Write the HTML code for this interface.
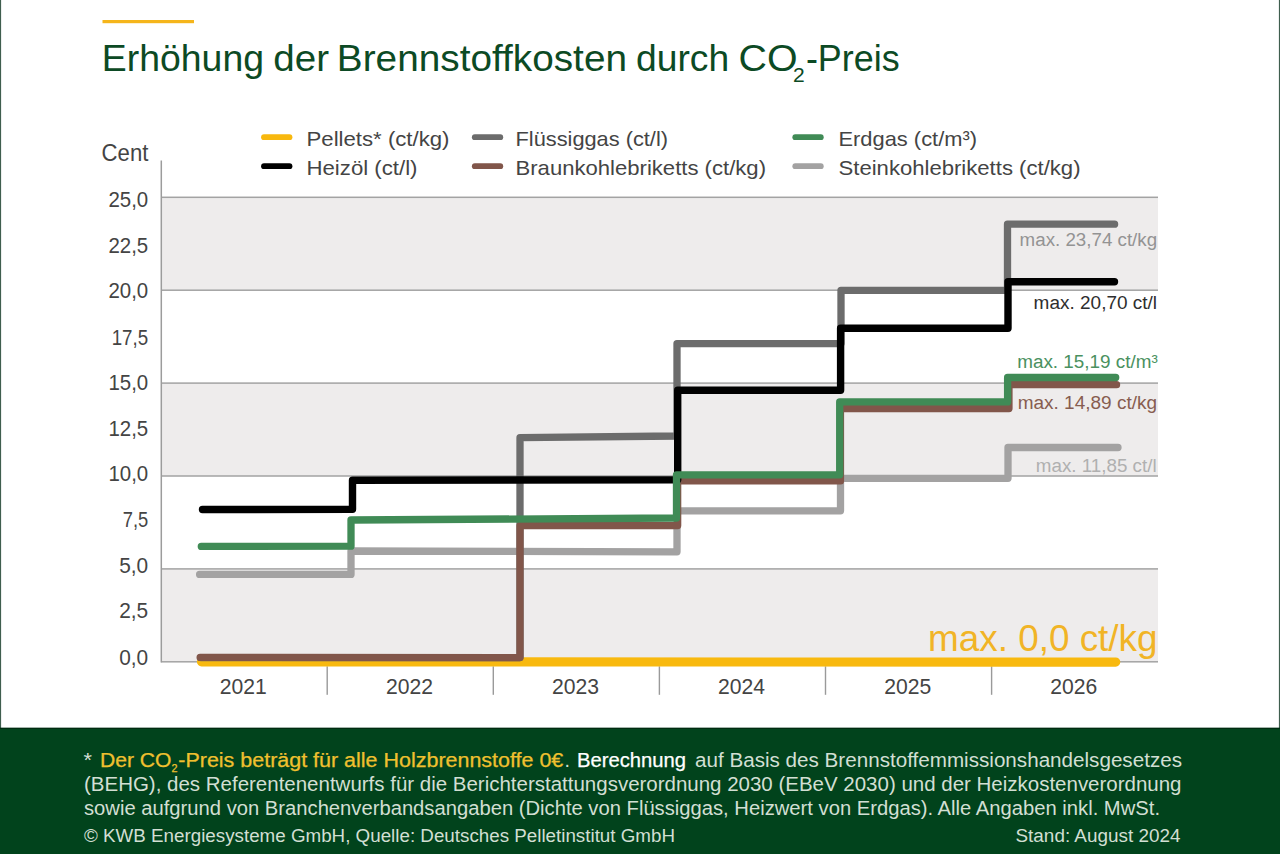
<!DOCTYPE html>
<html lang="de"><head><meta charset="utf-8"><title>Erhöhung der Brennstoffkosten durch CO2-Preis</title>
<style>
html,body{margin:0;padding:0;background:#fff;}
body{width:1280px;height:854px;overflow:hidden;position:relative;font-family:"Liberation Sans",sans-serif;}
svg{position:absolute;left:0;top:0;display:block}
text{font-family:"Liberation Sans",sans-serif;}
</style></head><body>
<svg width="1280" height="854" viewBox="0 0 1280 854">

<rect x="0" y="0" width="1280" height="854" fill="#ffffff"/>
<rect x="0" y="0" width="1.1" height="730" fill="#3f5e4e"/>
<rect x="1278.9" y="0" width="1.1" height="730" fill="#3f5e4e"/>
<rect x="0" y="727.8" width="1280" height="126.2" fill="#01431c"/><rect x="0" y="727.8" width="1280" height="1" fill="#01260f"/>
<rect x="102.5" y="20" width="91.5" height="3.2" fill="#f5b51b"/>
<rect x="161.3" y="197.3" width="996.7" height="92.9" fill="#eeecec"/>
<rect x="161.3" y="383.1" width="996.7" height="92.9" fill="#eeecec"/>
<rect x="161.3" y="568.9" width="996.7" height="92.9" fill="#eeecec"/>
<rect x="161.3" y="196.55" width="996.7" height="1.5" fill="#a3a3a3"/>
<rect x="161.3" y="289.45" width="996.7" height="1.5" fill="#a3a3a3"/>
<rect x="161.3" y="382.35" width="996.7" height="1.5" fill="#a3a3a3"/>
<rect x="161.3" y="475.25" width="996.7" height="1.5" fill="#a3a3a3"/>
<rect x="161.3" y="568.15" width="996.7" height="1.5" fill="#a3a3a3"/>
<rect x="161.3" y="661.05" width="996.7" height="1.5" fill="#a3a3a3"/>
<rect x="160.55" y="160.5" width="1.5" height="502.0" fill="#9c9c9c"/>
<rect x="326.5" y="666.3" width="1.4" height="28.5" fill="#9a9a9a"/>
<rect x="492.6" y="666.3" width="1.4" height="28.5" fill="#9a9a9a"/>
<rect x="658.7" y="666.3" width="1.4" height="28.5" fill="#9a9a9a"/>
<rect x="824.8" y="666.3" width="1.4" height="28.5" fill="#9a9a9a"/>
<rect x="990.9" y="666.3" width="1.4" height="28.5" fill="#9a9a9a"/>
<path d="M201.5,661.8 L1115.7,662.1" fill="none" stroke="#f8b90f" stroke-width="9.2" stroke-linecap="round" stroke-linejoin="round"/>
<path d="M199.6,574.4 L351.0,574.4 L351.0,551.0 L677.0,551.8 L677.0,510.8 L840.5,510.8 L840.5,478.3 L1008.0,478.3 L1008.0,447.5 L1118.0,447.5" fill="none" stroke="#a3a2a2" stroke-width="7.3" stroke-linecap="round" stroke-linejoin="round"/>
<path d="M201.0,657.6 L520.0,657.6 L520.0,437.7 L677.0,436.0 L677.0,343.6 L841.0,343.6 L841.0,290.3 L1007.5,290.3 L1007.5,224.2 L1114.6,224.2" fill="none" stroke="#6c6c6c" stroke-width="7.3" stroke-linecap="round" stroke-linejoin="round"/>
<path d="M200.1,657.4 L520.0,657.6 L520.0,525.6 L677.7,525.6 L677.7,481.0 L840.5,481.0 L840.5,408.6 L1009.0,408.6 L1009.0,384.7 L1116.6,384.7" fill="none" stroke="#81564a" stroke-width="7.2" stroke-linecap="round" stroke-linejoin="round"/>
<path d="M202.5,509.5 L352.5,509.3 L352.5,480.3 L677.7,479.7 L677.7,390.2 L840.6,390.2 L840.6,328.3 L1008.0,328.3 L1008.0,281.7 L1114.5,281.7" fill="none" stroke="#000000" stroke-width="7.4" stroke-linecap="round" stroke-linejoin="round"/>
<path d="M201.3,546.4 L351.0,546.2 L351.0,520.0 L676.5,518.0 L676.5,474.8 L839.7,474.8 L839.7,401.9 L1007.6,401.9 L1007.6,377.5 L1115.7,377.5" fill="none" stroke="#408b56" stroke-width="7.3" stroke-linecap="round" stroke-linejoin="round"/>
<text x="101.83" y="70.6" font-size="37.5" fill="#0c4a24" textLength="162.18" lengthAdjust="spacingAndGlyphs">Erhöhung</text>
<text x="273.28" y="70.6" font-size="37.5" fill="#0c4a24" textLength="55.76" lengthAdjust="spacingAndGlyphs">der</text>
<text x="336.83" y="70.6" font-size="37.5" fill="#0c4a24" textLength="290.18" lengthAdjust="spacingAndGlyphs">Brennstoffkosten</text>
<text x="636.04" y="70.6" font-size="37.5" fill="#0c4a24" textLength="93.18" lengthAdjust="spacingAndGlyphs">durch</text>
<text x="738.5" y="70.6" font-size="37.5" fill="#0c4a24" textLength="58.98" lengthAdjust="spacingAndGlyphs">CO</text>
<text x="793.14" y="82.4" font-size="19.5" fill="#0c4a24" textLength="11.72" lengthAdjust="spacingAndGlyphs">2</text>
<text x="805.91" y="70.6" font-size="37.5" fill="#0c4a24" textLength="93.69" lengthAdjust="spacingAndGlyphs">-Preis</text>
<text x="101.58" y="161" font-size="23.2" fill="#444444" textLength="46.79" lengthAdjust="spacingAndGlyphs">Cent</text>
<text x="108.4" y="206.8" font-size="22.4" fill="#444444" textLength="39.8" lengthAdjust="spacingAndGlyphs">25,0</text>
<text x="108.4" y="253.3" font-size="22.4" fill="#444444" textLength="39.8" lengthAdjust="spacingAndGlyphs">22,5</text>
<text x="108.4" y="298.2" font-size="22.4" fill="#444444" textLength="39.8" lengthAdjust="spacingAndGlyphs">20,0</text>
<text x="111.7" y="344.5" font-size="22.4" fill="#444444" textLength="36.5" lengthAdjust="spacingAndGlyphs">17,5</text>
<text x="108.4" y="389.6" font-size="22.4" fill="#444444" textLength="39.8" lengthAdjust="spacingAndGlyphs">15,0</text>
<text x="108.4" y="435.6" font-size="22.4" fill="#444444" textLength="39.8" lengthAdjust="spacingAndGlyphs">12,5</text>
<text x="108.4" y="480.7" font-size="22.4" fill="#444444" textLength="39.8" lengthAdjust="spacingAndGlyphs">10,0</text>
<text x="122.7" y="527.1" font-size="22.4" fill="#444444" textLength="25.5" lengthAdjust="spacingAndGlyphs">7,5</text>
<text x="119.2" y="573.2" font-size="22.4" fill="#444444" textLength="29" lengthAdjust="spacingAndGlyphs">5,0</text>
<text x="119.2" y="618.1" font-size="22.4" fill="#444444" textLength="29" lengthAdjust="spacingAndGlyphs">2,5</text>
<text x="119.2" y="665.1" font-size="22.4" fill="#444444" textLength="29" lengthAdjust="spacingAndGlyphs">0,0</text>
<text x="243.3" y="693.5" font-size="22.4" fill="#444444" text-anchor="middle" textLength="47" lengthAdjust="spacingAndGlyphs">2021</text>
<text x="409.4" y="693.5" font-size="22.4" fill="#444444" text-anchor="middle" textLength="47" lengthAdjust="spacingAndGlyphs">2022</text>
<text x="575.5" y="693.5" font-size="22.4" fill="#444444" text-anchor="middle" textLength="47" lengthAdjust="spacingAndGlyphs">2023</text>
<text x="741.6" y="693.5" font-size="22.4" fill="#444444" text-anchor="middle" textLength="47" lengthAdjust="spacingAndGlyphs">2024</text>
<text x="907.7" y="693.5" font-size="22.4" fill="#444444" text-anchor="middle" textLength="47" lengthAdjust="spacingAndGlyphs">2025</text>
<text x="1073.8" y="693.5" font-size="22.4" fill="#444444" text-anchor="middle" textLength="47" lengthAdjust="spacingAndGlyphs">2026</text>
<path d="M264,137.2 L289.5,137.2" stroke="#f8b80e" stroke-width="5.8" stroke-linecap="round" fill="none"/>
<text x="306.5" y="145.5" font-size="21" fill="#444444" textLength="143" lengthAdjust="spacingAndGlyphs">Pellets* (ct/kg)</text>
<path d="M264,166.2 L289.5,166.2" stroke="#000000" stroke-width="5.8" stroke-linecap="round" fill="none"/>
<text x="306.5" y="174.6" font-size="21" fill="#444444" textLength="111" lengthAdjust="spacingAndGlyphs">Heizöl (ct/l)</text>
<path d="M474.8,137.2 L500.3,137.2" stroke="#6c6c6c" stroke-width="5.8" stroke-linecap="round" fill="none"/>
<text x="515.5" y="145.5" font-size="21" fill="#444444" textLength="152.5" lengthAdjust="spacingAndGlyphs">Flüssiggas (ct/l)</text>
<path d="M474.8,166.2 L500.3,166.2" stroke="#81564a" stroke-width="5.8" stroke-linecap="round" fill="none"/>
<text x="515.5" y="174.6" font-size="21" fill="#444444" textLength="250.5" lengthAdjust="spacingAndGlyphs">Braunkohlebriketts (ct/kg)</text>
<path d="M795.3,137.2 L820.8,137.2" stroke="#408b56" stroke-width="5.8" stroke-linecap="round" fill="none"/>
<text x="838.5" y="145.5" font-size="21" fill="#444444" textLength="138.5" lengthAdjust="spacingAndGlyphs">Erdgas (ct/m³)</text>
<path d="M795.3,166.2 L820.8,166.2" stroke="#a3a2a2" stroke-width="5.8" stroke-linecap="round" fill="none"/>
<text x="838.5" y="174.6" font-size="21" fill="#444444" textLength="242" lengthAdjust="spacingAndGlyphs">Steinkohlebriketts (ct/kg)</text>
<text x="1019.6" y="245.9" font-size="19.2" fill="#939393" textLength="137.5" lengthAdjust="spacingAndGlyphs">max. 23,74 ct/kg</text>
<text x="1033.6" y="308.9" font-size="19.2" fill="#2e2e2e" textLength="123.5" lengthAdjust="spacingAndGlyphs">max. 20,70 ct/l</text>
<text x="1017.2" y="368" font-size="19.2" fill="#4a9160" textLength="140.5" lengthAdjust="spacingAndGlyphs">max. 15,19 ct/m³</text>
<text x="1017.7" y="408.7" font-size="19.2" fill="#875d50" textLength="139.3" lengthAdjust="spacingAndGlyphs">max. 14,89 ct/kg</text>
<text x="1035.8" y="472.1" font-size="19.2" fill="#b0b0b0" textLength="120.8" lengthAdjust="spacingAndGlyphs">max. 11,85 ct/l</text>
<text x="928" y="651.3" font-size="37.5" fill="#f1b426" textLength="229.5" lengthAdjust="spacingAndGlyphs">max. 0,0 ct/kg</text>
<text x="83.5" y="767.1" font-size="19.5" fill="#d2dfd3" textLength="8.5" lengthAdjust="spacingAndGlyphs">*</text>
<text x="100" y="767.1" font-size="19.5" fill="#f0c02f" textLength="71.5" lengthAdjust="spacingAndGlyphs" stroke="#f0c02f" stroke-width="0.25">Der CO</text>
<text x="171.6" y="772.4" font-size="11" fill="#f0c02f" textLength="6" lengthAdjust="spacingAndGlyphs" stroke="#f0c02f" stroke-width="0.25">2</text>
<text x="178.3" y="767.1" font-size="19.5" fill="#f0c02f" textLength="385" lengthAdjust="spacingAndGlyphs" stroke="#f0c02f" stroke-width="0.25">-Preis beträgt für alle Holzbrennstoffe 0€</text>
<text x="564.5" y="767.1" font-size="19.5" fill="#d2dfd3">.</text>
<text x="577" y="767.1" font-size="19.5" fill="#ffffff" textLength="109" lengthAdjust="spacingAndGlyphs" stroke="#ffffff" stroke-width="0.25">Berechnung</text>
<text x="695" y="767.1" font-size="19.5" fill="#d2dfd3" textLength="487" lengthAdjust="spacingAndGlyphs">auf Basis des Brennstoffemmissionshandelsgesetzes</text>
<text x="84" y="790.8" font-size="19.5" fill="#d2dfd3" textLength="1097.5" lengthAdjust="spacingAndGlyphs">(BEHG), des Referentenentwurfs für die Berichterstattungsverordnung 2030 (EBeV 2030) und der Heizkostenverordnung</text>
<text x="84" y="815.1" font-size="19.5" fill="#d2dfd3" textLength="1076" lengthAdjust="spacingAndGlyphs">sowie aufgrund von Branchenverbandsangaben (Dichte von Flüssiggas, Heizwert von Erdgas). Alle Angaben inkl. MwSt.</text>
<text x="84" y="842.4" font-size="18" fill="#d2dfd3" textLength="591" lengthAdjust="spacingAndGlyphs">© KWB Energiesysteme GmbH, Quelle: Deutsches Pelletinstitut GmbH</text>
<text x="1015.5" y="842.4" font-size="18" fill="#d2dfd3" textLength="165" lengthAdjust="spacingAndGlyphs">Stand: August 2024</text>
</svg></body></html>
